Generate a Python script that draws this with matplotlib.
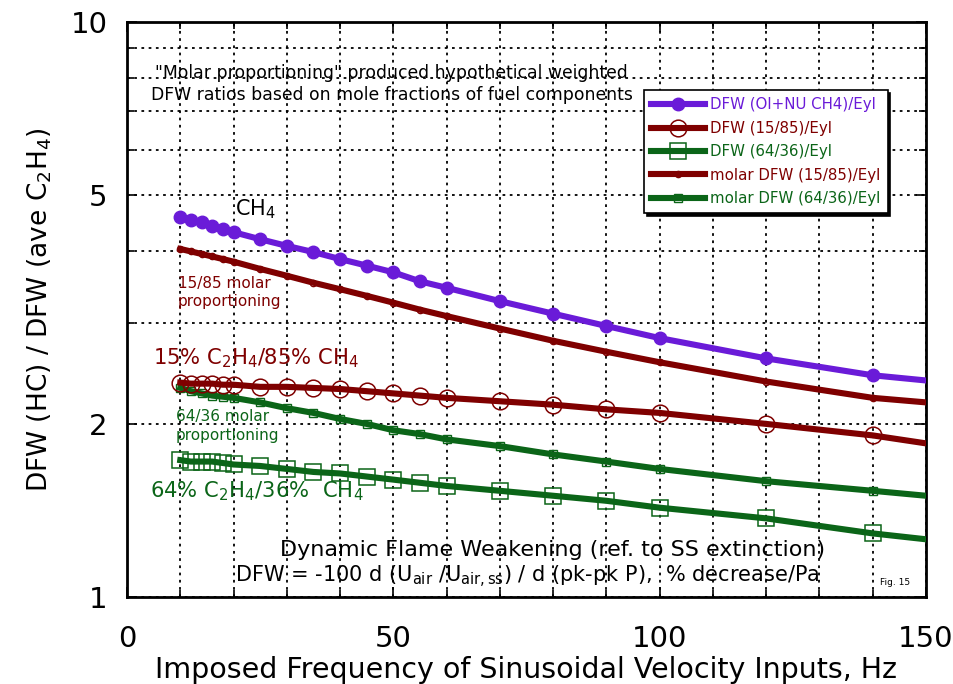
import matplotlib
matplotlib.use("Agg")
import matplotlib.pyplot as plt
from matplotlib.ticker import FixedLocator, NullFormatter

plt.rcParams['font.family'] = ['DejaVu Sans']
plt.rcParams['mathtext.fontset'] = 'dejavusans'

# frequency points (Hz); the last entry (150) is the end of the fitted curve, no marker
freq = [10, 12, 14, 16, 18, 20, 25, 30, 35, 40, 45, 50, 55, 60, 70, 80, 90, 100, 120, 140, 150]

dfw_ch4 = [4.58, 4.53, 4.49, 4.42, 4.37, 4.31, 4.19, 4.08, 3.98, 3.87, 3.77, 3.67,
           3.54, 3.45, 3.27, 3.11, 2.96, 2.82, 2.60, 2.43, 2.38]
dfw_15_85 = [2.36, 2.35, 2.35, 2.35, 2.34, 2.34, 2.32, 2.32, 2.31, 2.30, 2.28, 2.26,
             2.24, 2.22, 2.19, 2.16, 2.12, 2.09, 2.00, 1.91, 1.85]
dfw_64_36 = [1.73, 1.72, 1.72, 1.72, 1.71, 1.70, 1.69, 1.67, 1.65, 1.64, 1.62, 1.60,
             1.58, 1.56, 1.53, 1.50, 1.47, 1.43, 1.37, 1.29, 1.26]
molar_15_85 = [4.03, 3.99, 3.95, 3.91, 3.87, 3.83, 3.72, 3.62, 3.52, 3.43, 3.34, 3.25,
               3.16, 3.08, 2.93, 2.79, 2.67, 2.56, 2.37, 2.22, 2.18]
molar_64_36 = [2.31, 2.28, 2.26, 2.24, 2.23, 2.22, 2.18, 2.13, 2.09, 2.04, 2.00, 1.95,
               1.92, 1.88, 1.83, 1.77, 1.72, 1.67, 1.59, 1.53, 1.50]

labels = ["DFW (Ol+NU CH4)/Eyl", "DFW (15/85)/Eyl", "DFW (64/36)/Eyl",
          "molar DFW (15/85)/Eyl", "molar DFW (64/36)/Eyl"]

PURPLE = "#6a1bd8"
RED = "#7f0000"
GREEN = "#0b6518"

fig = plt.figure(figsize=(9.54, 6.84), dpi=100)
ax = fig.add_axes([127 / 954, 1 - 597 / 684, 799 / 954, 575 / 684])

marks = slice(0, -1)
lw = 4.4
ax.plot(freq, dfw_ch4, color=PURPLE, lw=lw, marker="o", ms=9, markevery=marks,
        label=labels[0], zorder=5)
ax.plot(freq, dfw_15_85, color=RED, lw=lw, marker="o", ms=12, mfc="none", mew=1.1,
        markevery=marks, label=labels[1], zorder=4)
ax.plot(freq, dfw_64_36, color=GREEN, lw=lw, marker="s", ms=12, mfc="none", mew=1.1,
        markevery=marks, label=labels[2], zorder=4)
ax.plot(freq, molar_15_85, color=RED, lw=lw, marker="o", ms=4.5, mfc="none", mew=1.0,
        markevery=marks, label=labels[3], zorder=3)
ax.plot(freq, molar_64_36, color=GREEN, lw=lw, marker="s", ms=5.5, mfc="none", mew=1.0,
        markevery=marks, label=labels[4], zorder=3)

ax.set_yscale("log")
ax.set_xlim(0, 150)
ax.set_ylim(1, 10)
ax.set_xticks([0, 50, 100, 150])
ax.xaxis.set_minor_locator(FixedLocator(range(0, 151, 10)))
ax.yaxis.set_major_locator(FixedLocator([1, 2, 5, 10]))
ax.yaxis.set_minor_locator(FixedLocator([3, 4, 6, 7, 8, 9]))
ax.yaxis.set_major_formatter(plt.FuncFormatter(lambda v, p: f"{v:g}"))
ax.yaxis.set_minor_formatter(NullFormatter())
ax.tick_params(which="both", direction="in", top=True, right=True, width=1.2)
ax.tick_params(which="major", length=7, labelsize=21)
ax.tick_params(axis="x", which="major", pad=20)
ax.tick_params(axis="y", which="major", pad=14)
ax.tick_params(which="minor", length=5)
ax.grid(which="both", linestyle=(0, (1.5, 2.5)), color="black", lw=1.3)
for s in ax.spines.values():
    s.set_linewidth(2)

ax.set_xlabel("Imposed Frequency of Sinusoidal Velocity Inputs, Hz", fontsize=20.5, labelpad=2)
ax.set_ylabel("DFW (HC) / DFW (ave C$_2$H$_4$)", fontsize=19, labelpad=12)

leg = ax.legend(loc="upper right", bbox_to_anchor=(0.952, 0.882), borderaxespad=0,
                fontsize=10.8, handlelength=3.6, handletextpad=0.3, labelspacing=0.56,
                borderpad=0.5, fancybox=False, framealpha=1, edgecolor="black",
                shadow={"color": "black", "alpha": 1})
leg.get_frame().set_linewidth(1.2)
leg.set_zorder(10)
for txt, c in zip(leg.get_texts(), [PURPLE, RED, GREEN, RED, GREEN]):
    txt.set_color(c)

ax.text(20.3, 4.5, "CH$_4$", fontsize=15, color="black", ha="left", va="bottom")
ax.text(9.5, 3.62, "15/85 molar\nproportioning", fontsize=11, color=RED,
        ha="left", va="top", linespacing=1.3)
ax.text(4.8, 2.6, "15% C$_2$H$_4$/85% CH$_4$", fontsize=15.2, color=RED,
        ha="left", va="center")
ax.text(9.2, 2.12, "64/36 molar\nproportioning", fontsize=11, color=GREEN,
        ha="left", va="top", linespacing=1.3)
ax.text(4.3, 1.53, "64% C$_2$H$_4$/36%  CH$_4$", fontsize=15.2, color=GREEN,
        ha="left", va="center")
ax.text(49.7, 8.45, "\"Molar proportioning\" produced hypothetical weighted\n"
        "DFW ratios based on mole fractions of fuel components",
        fontsize=12.4, ha="center", va="top", linespacing=1.3)
ax.text(79.8, 1.205, "Dynamic Flame Weakening (ref. to SS extinction)",
        fontsize=16, ha="center", va="center")
ax.text(75.2, 1.085, "DFW = -100 d (U$_{\\mathrm{air}}$ /U$_{\\mathrm{air,ss}}$) / d (pk-pk P),  % decrease/Pa",
        fontsize=15, ha="center", va="center")
ax.text(147, 1.04, "Fig. 15", fontsize=6.5, ha="right", va="bottom")

fig.savefig("out.png", dpi=100)
